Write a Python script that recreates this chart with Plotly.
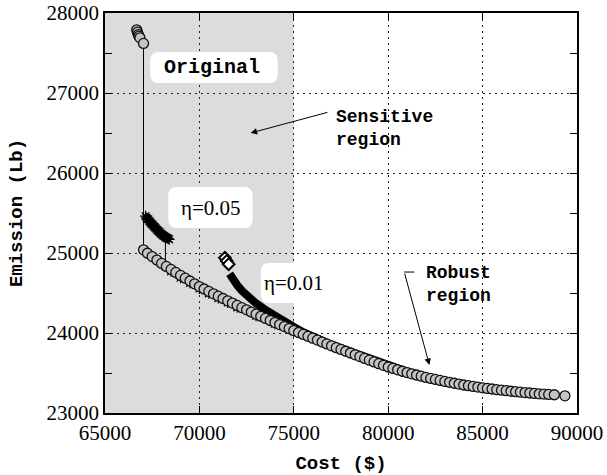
import plotly.graph_objects as go

# ---- data -------------------------------------------------------------
# Original Pareto front (cost in $, emission in lb)
orig_cost = [66680, 66720, 66760, 66800, 66850, 67040,
             67040, 67250, 67500, 67750, 68000, 68250, 68500, 68750,
             69000, 69250, 69500, 69750, 70000, 70250, 70500, 70750,
             71000, 71250, 71500, 71750, 72000, 72250, 72500, 72750,
             73000, 73250, 73500, 73750, 74000, 74250, 74500, 74750,
             75000, 75250, 75500, 75750, 76000, 76250, 76500, 76750,
             77000, 77250, 77500, 77750, 78000, 78250, 78500, 78750,
             79000, 79250, 79500, 79750, 80000, 80250, 80500, 80750,
             81000, 81250, 81500, 81750, 82000, 82250, 82500, 82750,
             83000, 83250, 83500, 83750, 84000, 84250, 84500, 84750,
             85000, 85250, 85500, 85750, 86000, 86250, 86500, 86750,
             87000, 87250, 87500, 87750, 88000, 88250, 88500, 88800,
             89360]
orig_emis = [27790, 27760, 27730, 27710, 27690, 27620,
             25040, 24997, 24955, 24912, 24870, 24832, 24795, 24757,
             24720, 24685, 24650, 24615, 24580, 24550, 24520, 24490,
             24460, 24431, 24402, 24374, 24345, 24317, 24290, 24262,
             24235, 24209, 24182, 24156, 24130, 24105, 24080, 24055,
             24030, 24006, 23982, 23959, 23935, 23911, 23887, 23864,
             23840, 23817, 23795, 23772, 23750, 23727, 23705, 23682,
             23660, 23639, 23617, 23596, 23575, 23557, 23540, 23522,
             23505, 23490, 23475, 23460, 23445, 23432, 23420, 23407,
             23395, 23384, 23372, 23361, 23350, 23341, 23332, 23324,
             23315, 23307, 23300, 23292, 23285, 23279, 23272, 23266,
             23260, 23255, 23250, 23245, 23240, 23236, 23232, 23228,
             23215]

# Front obtained with eta = 0.05
eta05_cost = [67150, 67200, 67250, 67300, 67350, 67400, 67450, 67500,
              67550, 67600, 67650, 67700, 67750, 67800, 67850, 67900,
              67950, 68000, 68050, 68100, 68150, 68250, 68300, 68350,
              68400, 68200, 68200, 68500, 69000, 69500, 70000, 70500,
              71000, 71500, 72000, 73000, 74000, 75000]
eta05_emis = [25460, 25440, 25425, 25420, 25400, 25385, 25370, 25360,
              25345, 25330, 25320, 25305, 25290, 25280, 25270, 25260,
              25245, 25235, 25225, 25215, 25210, 25195, 25185, 25180,
              25170, 25195, 24830, 24770, 24690, 24625, 24555, 24495,
              24435, 24380, 24320, 24215, 24115, 24020]

# Front obtained with eta = 0.01
eta01_cost = [71350, 71450, 71550]
eta01_emis = [24940, 24900, 24860]
eta01_band_cost = [71600, 71700, 71800, 72000, 72250, 72500, 72750, 73000,
                   73500, 74000, 74500, 75000, 75500, 76000, 76500, 77000,
                   78000, 79000, 80000, 81000, 82000]
eta01_band_emis = [24740, 24700, 24665, 24600, 24530, 24470, 24420, 24370,
                   24290, 24210, 24140, 24075, 24010, 23950, 23900, 23855,
                   23770, 23680, 23595, 23520, 23455]

x_ticks = [65000, 70000, 75000, 80000, 85000, 90000]
y_ticks = [23000, 24000, 25000, 26000, 27000, 28000]

MONO = "Courier New, Liberation Mono, monospace"
SERIF = "Times New Roman, Liberation Serif, serif"


def rounded_box(x0, y0, x1, y1, rx, ry):
    return (f"M {x0+rx},{y0} L {x1-rx},{y0} Q {x1},{y0} {x1},{y0+ry} "
            f"L {x1},{y1-ry} Q {x1},{y1} {x1-rx},{y1} "
            f"L {x0+rx},{y1} Q {x0},{y1} {x0},{y1-ry} "
            f"L {x0},{y0+ry} Q {x0},{y0} {x0+rx},{y0} Z")


fig = go.Figure()

# eta = 0.01 : thick band of markers, then a few isolated diamonds
fig.add_trace(go.Scatter(
    x=eta01_band_cost, y=eta01_band_emis, mode="lines",
    line=dict(color="black", width=8), hoverinfo="skip", showlegend=False))
fig.add_trace(go.Scatter(
    x=eta01_cost, y=eta01_emis, mode="markers",
    marker=dict(symbol="diamond", size=9, color="white",
                line=dict(color="black", width=2)),
    showlegend=False))

# eta = 0.05
fig.add_trace(go.Scatter(
    x=eta05_cost, y=eta05_emis, mode="lines+markers",
    line=dict(color="black", width=1),
    marker=dict(symbol="asterisk-open", size=9,
                line=dict(color="black", width=1.2)),
    showlegend=False))

# original front
fig.add_trace(go.Scatter(
    x=orig_cost, y=orig_emis, mode="lines+markers",
    line=dict(color="black", width=1),
    marker=dict(symbol="circle", size=10, color="#c4c4c4",
                line=dict(color="#111111", width=1.3)),
    showlegend=False))

shapes = [
    # sensitive region shading
    dict(type="rect", xref="x", yref="y", x0=65000, x1=75000,
         y0=23000, y1=28000, fillcolor="#dcdcdc", line=dict(width=0),
         layer="below"),
    # label boxes
    dict(type="path", xref="x", yref="y", layer="between",
         path=rounded_box(67394, 27125, 74149, 27512, 450, 110),
         fillcolor="white", line=dict(width=0)),
    dict(type="path", xref="x", yref="y", layer="between",
         path=rounded_box(68351, 25312, 72819, 25825, 450, 110),
         fillcolor="white", line=dict(width=0)),
    dict(type="path", xref="x", yref="y", layer="between",
         path=rounded_box(73245, 24375, 77234, 24875, 450, 110),
         fillcolor="white", line=dict(width=0)),
    # tail of the robust-region arrow
    dict(type="line", xref="x", yref="y", x0=80851, y0=24762,
         x1=81383, y1=24762, line=dict(color="black", width=1)),
]

annotations = [
    dict(x=70691, y=27325, xref="x", yref="y", text="<b>Original</b>",
         showarrow=False, font=dict(family=MONO, size=20, color="black")),
    dict(x=70638, y=25562, xref="x", yref="y", text="η=0.05",
         showarrow=False, font=dict(family=SERIF, size=21, color="black")),
    dict(x=73330, y=24625, xref="x", yref="y", text="η=0.01",
         xanchor="left", showarrow=False,
         font=dict(family=SERIF, size=21, color="black")),
    dict(x=77128, y=26562, xref="x", yref="y",
         text="<b>Sensitive</b><br><b>region</b>", align="left",
         xanchor="left", showarrow=False,
         font=dict(family=MONO, size=18, color="black")),
    dict(x=81915, y=24612, xref="x", yref="y",
         text="<b>Robust</b><br><b>region</b>", align="left",
         xanchor="left", showarrow=False,
         font=dict(family=MONO, size=18, color="black")),
    # arrows
    dict(x=72713, y=26500, ax=76862, ay=26763, xref="x", yref="y",
         axref="x", ayref="y", text="", showarrow=True, arrowhead=2,
         arrowsize=1.3, arrowwidth=1, arrowcolor="black"),
    dict(x=82181, y=23600, ax=80851, ay=24762, xref="x", yref="y",
         axref="x", ayref="y", text="", showarrow=True, arrowhead=2,
         arrowsize=1.3, arrowwidth=1, arrowcolor="black"),
]

axis_common = dict(
    showline=True, linecolor="black", linewidth=1.5, mirror="allticks",
    ticks="inside", ticklen=7, tickcolor="black", tickwidth=1,
    showgrid=True, gridcolor="#222222", gridwidth=1, griddash="2px,4px",
    zeroline=False, automargin=False,
    tickfont=dict(family=SERIF, size=21, color="black"),
)

fig.update_layout(
    width=607, height=475,
    margin=dict(l=105, r=30, t=13, b=62),
    paper_bgcolor="white", plot_bgcolor="white",
    shapes=shapes, annotations=annotations,
    xaxis=dict(range=[65000, 90000], tickvals=x_ticks,
               ticktext=[str(v) for v in x_ticks],
               title=dict(text="<b>Cost ($)</b>", standoff=12,
                          font=dict(family=MONO, size=19, color="black")),
               **axis_common),
    yaxis=dict(range=[23000, 28000], tickvals=y_ticks,
               ticktext=[str(v) for v in y_ticks],
               minor=dict(dtick=500, ticks="inside", ticklen=7,
                          tickcolor="black", showgrid=False),
               title=dict(text="<b>Emission (Lb)</b>", standoff=19,
                          font=dict(family=MONO, size=19, color="black")),
               **axis_common),
)

fig.write_html("out.html")
